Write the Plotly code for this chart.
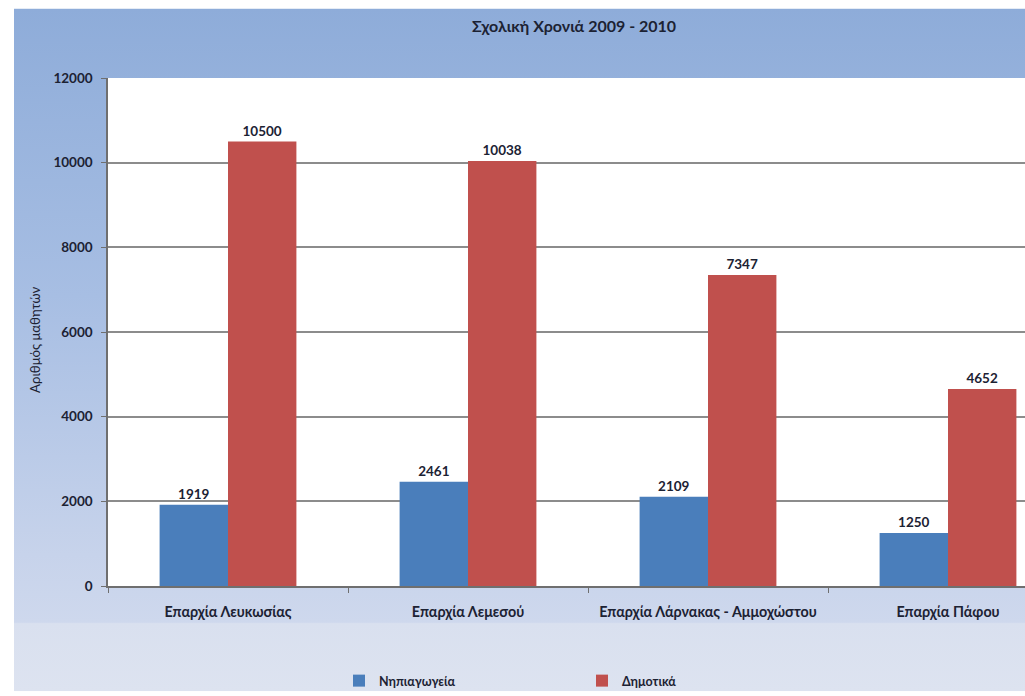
import base64
import plotly.graph_objects as go

categories = ["Επαρχία Λευκωσίας", "Επαρχία Λεμεσού", "Επαρχία Λάρνακας - Αμμοχώστου", "Επαρχία Πάφου"]
nipiagogeia = [1919, 2461, 2109, 1250]
dimotika = [10500, 10038, 7347, 4652]
series_names = ["Νηπιαγωγεία", "Δημοτικά"]
title_text = "Σχολική Χρονιά 2009 - 2010"
y_title = "Αριθμός μαθητών"
y_ticks = [0, 2000, 4000, 6000, 8000, 10000, 12000]

W, H = 1025, 696
L, R, T, B = 108, 0, 78, 106
pw, ph = W - L - R, H - T - B

FONT = "Lato"
DARK = "#1c2233"

# background: chart area 14..1025 x 8..696, with white plot area
svg = f'''<svg xmlns="http://www.w3.org/2000/svg" width="1011" height="688" viewBox="0 0 1011 688" preserveAspectRatio="none">
<defs><linearGradient id="g" x1="0" y1="0" x2="0" y2="1">
<stop offset="0" stop-color="#8eacd9"/>
<stop offset="0.42" stop-color="#a7bee3"/>
<stop offset="0.80" stop-color="#c7d3eb"/>
<stop offset="0.899" stop-color="#ced8ed"/>
<stop offset="0.901" stop-color="#d9e0ef"/>
<stop offset="1" stop-color="#dde3f0"/>
</linearGradient></defs>
<rect x="0" y="0" width="1011" height="688" fill="url(#g)"/>
<rect x="{L-14}" y="{T-8}" width="{pw}" height="{ph}" fill="#ffffff"/>
</svg>'''
src = "data:image/svg+xml;base64," + base64.b64encode(svg.encode("utf-8")).decode()

fig = go.Figure()
fig.add_trace(go.Bar(
    x=categories, y=nipiagogeia, name=series_names[0],
    marker=dict(color="#4a7ebb", line=dict(width=0)),
    text=nipiagogeia, textposition="outside", texttemplate="%{y}",
    textfont=dict(family=FONT, size=13.5, color=DARK, weight="bold"),
    cliponaxis=False,
))
fig.add_trace(go.Bar(
    x=categories, y=dimotika, name=series_names[1],
    marker=dict(color="#c0504d", line=dict(width=0)),
    text=dimotika, textposition="outside", texttemplate="%{y}",
    textfont=dict(family=FONT, size=13.5, color=DARK, weight="bold"),
    cliponaxis=False,
))

fig.update_layout(
    width=W, height=H,
    margin=dict(l=L, r=R, t=T, b=B),
    paper_bgcolor="white",
    plot_bgcolor="white",
    barmode="group",
    bargap=0.43,
    bargroupgap=0,
    font=dict(family=FONT, color=DARK),
    images=[dict(
        source=src, xref="paper", yref="paper",
        x=(14 - L) / pw, y=(H - B - 8) / ph,
        sizex=1011 / pw, sizey=688 / ph,
        xanchor="left", yanchor="top", sizing="stretch", layer="below",
    )],
    showlegend=True,
    legend=dict(
        orientation="h", x=(339 - L) / pw, y=(H - B - 686) / ph,
        xanchor="left", yanchor="middle",
        bgcolor="rgba(0,0,0,0)", entrywidth=198, itemwidth=30,
        font=dict(family=FONT, size=12.5, color=DARK, weight="bold"),
        itemsizing="constant",
    ),
    annotations=[
        dict(text=title_text, xref="paper", yref="paper",
             x=(574 - L) / pw, y=(H - B - 25) / ph, xanchor="center", yanchor="middle",
             showarrow=False, font=dict(family=FONT, size=16, color=DARK, weight="bold")),
        dict(text=y_title, xref="paper", yref="paper",
             x=(35 - L) / pw, y=(H - B - 342) / ph, xanchor="center", yanchor="middle",
             textangle=-90, showarrow=False, font=dict(family=FONT, size=13.2, color=DARK)),
    ],
)

fig.update_xaxes(
    range=[-0.5, -0.5 + pw / 240.0],
    showline=True, linecolor="#6f6f6f", linewidth=1.5,
    ticks="outside", tickson="boundaries", ticklen=5, tickcolor="#6f6f6f",
    tickfont=dict(family=FONT, size=14.3, color=DARK, weight="bold"),
    ticklabelstandoff=12,
    showgrid=False, fixedrange=True,
)
fig.update_yaxes(
    range=[0, 12000], tickvals=y_ticks, tickformat="d",
    showline=True, linecolor="#6f6f6f", linewidth=1.5,
    ticks="outside", ticklen=5, tickcolor="#6f6f6f",
    tickfont=dict(family=FONT, size=13.5, color=DARK, weight="bold"),
    ticklabelstandoff=6,
    showgrid=True, gridcolor="#8c8c8c", gridwidth=1.5,
    zeroline=False, fixedrange=True,
)

fig.write_html("out.html")
